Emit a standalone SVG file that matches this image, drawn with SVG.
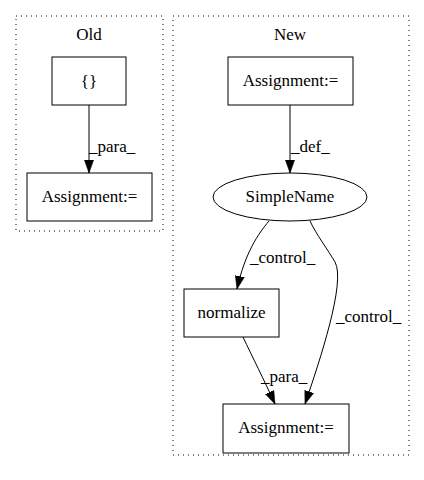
<svg xmlns="http://www.w3.org/2000/svg" width="424" height="480" viewBox="0 0 424 480">
<style>
text{font-family:'Liberation Serif','Times New Roman',Times,serif;font-size:17px;fill:#000}
.c{text-anchor:middle}
.cl{fill:none;stroke:#000;stroke-dasharray:1,4}
.n{fill:#fff;stroke:#000;stroke-width:1}
.e{fill:none;stroke:#000;stroke-width:1;marker-end:url(#a)}
</style>
<defs>
<marker id="a" markerUnits="userSpaceOnUse" markerWidth="13" markerHeight="10" refX="12" refY="4.25" orient="auto" viewBox="0 0 12 8.5">
<path d="M0,0 L12,4.25 L0,8.5 Z" fill="#000" stroke="#000" stroke-width="0.5"/>
</marker>
</defs>
<rect width="424" height="480" fill="#fff"/>
<g id="cluster_old">
<rect class="cl" x="16" y="16" width="147" height="215"/>
<text class="c" x="89" y="40">Old</text>
</g>
<g id="cluster_new">
<rect class="cl" x="173" y="16" width="236" height="439"/>
<text class="c" x="290" y="40">New</text>
</g>
<g id="connectors">
<path class="e" d="M89,105 L89,173"/>
<text x="89" y="152">_para_</text>
<path class="e" d="M290,105 L290,173"/>
<text x="291" y="152">_def_</text>
<path class="e" d="M269,221 C258,234 245,253 237,289"/>
<text x="250" y="263">_control_</text>
<path class="e" d="M310,221 C316,234 328,250 335,262 C346,282 320,360 305,404"/>
<text x="336" y="322">_control_</text>
<path class="e" d="M243,337 C252,356 264,380 275,404"/>
<text x="261" y="382">_para_</text>
</g>
<g id="old_braces">
<rect class="n" x="52" y="57" width="74" height="48"/>
<text class="c" x="89" y="87">{}</text>
</g>
<g id="old_assignment">
<rect class="n" x="27" y="173" width="125" height="48"/>
<text class="c" x="89.5" y="202">Assignment:=</text>
</g>
<g id="new_assignment_top">
<rect class="n" x="228" y="57" width="125" height="48"/>
<text class="c" x="290.5" y="86">Assignment:=</text>
</g>
<g id="simplename">
<ellipse class="n" cx="290" cy="197" rx="77" ry="24"/>
<text class="c" x="290" y="202">SimpleName</text>
</g>
<g id="normalize">
<rect class="n" x="184" y="289" width="95" height="48"/>
<text class="c" x="231.5" y="318">normalize</text>
</g>
<g id="new_assignment_bottom">
<rect class="n" x="223" y="404" width="126" height="49"/>
<text class="c" x="286" y="433">Assignment:=</text>
</g>
</svg>
